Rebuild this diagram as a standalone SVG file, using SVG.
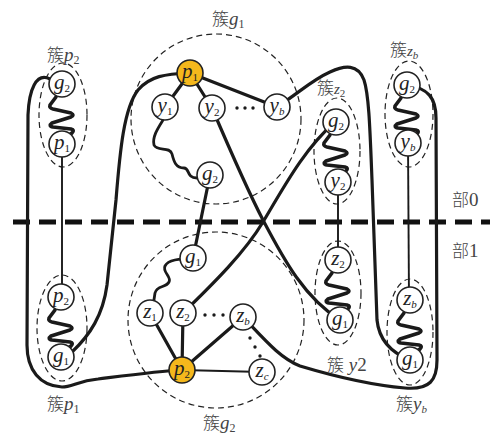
<svg xmlns="http://www.w3.org/2000/svg" xmlns:xlink="http://www.w3.org/1999/xlink" width="501" height="437" viewBox="0 0 501 437">
  <style>
    .node { fill: #ffffff; stroke: #222; stroke-width: 1.6; }
    .root { fill: #F5B81C; stroke: #222; stroke-width: 1.6; }
    .thick { fill: none; stroke: #1a1a1a; stroke-width: 3.2; stroke-linecap: round; stroke-linejoin: round; }
    .thin { fill: none; stroke: #1a1a1a; stroke-width: 1.9; }
    .wave { fill: none; stroke: #1a1a1a; stroke-width: 3.6; stroke-linejoin: round; stroke-linecap: round; }
    .squig { fill: none; stroke: #1a1a1a; stroke-width: 2.8; stroke-linejoin: round; stroke-linecap: round; }
    .cluster { fill: none; stroke: #222; stroke-width: 1.2; stroke-dasharray: 6 4; }
    .divider { fill: none; stroke: #111; stroke-width: 5; stroke-dasharray: 17 9; }
    .dot { fill: #1a1a1a; }
  </style>
  <defs>
    <!-- zig-zag spring between the two members of a pair cluster, top node at origin -->
    <path id="zz" class="wave" d="M-6,13 L-12,21 Q-13,24 -9,25 L9,29 Q13,31 9,33 L-10,39 Q-14,42 -9,43 L9,45 Q13,46 10,49 L6,52"/>
  </defs>

  <!-- part divider -->
  <line class="divider" x1="13" y1="222" x2="490" y2="222"/>

  <!-- cluster outlines -->
  <g id="outlines">
    <circle class="cluster" cx="216" cy="119" r="85"/>
    <circle class="cluster" cx="216" cy="320" r="88"/>
    <ellipse class="cluster" cx="63" cy="115" rx="24" ry="52"/>
    <ellipse class="cluster" cx="62" cy="328" rx="25" ry="53"/>
    <ellipse class="cluster" cx="337" cy="151" rx="23" ry="53"/>
    <ellipse class="cluster" cx="409" cy="114" rx="24" ry="53"/>
    <ellipse class="cluster" cx="338" cy="293" rx="23" ry="52"/>
    <ellipse class="cluster" cx="410" cy="332" rx="23" ry="53"/>
  </g>

  <!-- connectors -->
  <g id="connectors">
    <!-- long outer curves -->
    <path class="thick" d="M50,79 C36,72 29,90 28,115 L27,345 C27,370 40,386 62,387 C72,387 78,381 98,379 C130,375 160,371 182,370"/>
    <path class="thick" d="M72,352 C90,335 103,315 107,285 L116,200 C120,150 124,108 138,90 C150,76 165,74 190,73"/>
    <path class="thick" d="M277,107 C300,92 312,80 330,72 C345,65 358,64 364,80 C369,95 370,130 372,180 L377,320 C379,340 392,353 410,360"/>
    <path class="thick" d="M243,317 C265,340 280,358 300,366 C330,375 370,385 405,388 C430,390 437,380 437,360 L436,118 C436,98 428,88 407,85"/>
    <!-- crossing edges -->
    <path class="thick" d="M212,108 C230,150 250,195 263,220 C285,262 305,298 340,320"/>
    <path class="thick" d="M183,313 C215,282 245,252 263,222 C285,185 305,148 335,122"/>
    <!-- edges inside cluster g1 -->
    <line class="thick" x1="190" y1="73" x2="165" y2="107"/>
    <line class="thick" x1="190" y1="73" x2="212" y2="108"/>
    <line class="thick" x1="190" y1="73" x2="277" y2="107"/>
    <path class="squig" d="M163,120 C158,128 152,137 154,145 C157,152 170,146 172,154 C174,162 176,168 184,168 C190,168 186,178 197,178 L205,176"/>
    <!-- link g1 cluster to g2 cluster -->
    <line class="thick" x1="210" y1="175" x2="193" y2="258"/>
    <!-- edges inside cluster g2 -->
    <path class="squig" d="M190,260 C180,258 168,260 165,266 C162,272 172,277 169,282 C166,288 157,285 155,293 L152,313"/>
    <line class="thick" x1="182" y1="370" x2="150" y2="313"/>
    <line class="thick" x1="182" y1="370" x2="183" y2="313"/>
    <line class="thick" x1="182" y1="370" x2="243" y2="317"/>
    <line class="thin" x1="182" y1="370" x2="262" y2="372"/>
    <!-- vertical links between parts -->
    <line class="thin" x1="62" y1="143" x2="62" y2="297"/>
    <line class="thin" x1="338" y1="182" x2="338" y2="260"/>
    <line class="thin" x1="408" y1="143" x2="409" y2="300"/>
    <!-- springs inside pair clusters -->
    <use href="#zz" x="62" y="84"/>
    <use href="#zz" x="61" y="297"/>
    <use href="#zz" x="336" y="122"/>
    <use href="#zz" x="407" y="85"/>
    <use href="#zz" x="338" y="260"/>
    <use href="#zz" x="410" y="300"/>
    <!-- ellipsis dots -->
    <circle class="dot" cx="237" cy="108" r="1.7"/>
    <circle class="dot" cx="245" cy="108" r="1.7"/>
    <circle class="dot" cx="253" cy="108" r="1.7"/>
    <circle class="dot" cx="205" cy="315" r="1.7"/>
    <circle class="dot" cx="214" cy="315" r="1.7"/>
    <circle class="dot" cx="223" cy="315" r="1.7"/>
    <circle class="dot" cx="250" cy="338" r="1.7"/>
    <circle class="dot" cx="255" cy="347" r="1.7"/>
    <circle class="dot" cx="260" cy="356" r="1.7"/>
  </g>

  <!-- cluster captions -->
  <g id="captions" font-family="Liberation Serif, DejaVu Serif, serif" font-size="19" fill="#444">
    <text x="452" y="206"><tspan font-family="Noto Sans CJK SC, sans-serif" font-size="17" font-weight="300">部</tspan>0</text>
    <text x="452" y="257"><tspan font-family="Noto Sans CJK SC, sans-serif" font-size="17" font-weight="300">部</tspan>1</text>
    <text id="cap-p2" x="47" y="61"><tspan font-family="Noto Sans CJK SC, sans-serif" font-size="17" font-weight="300">簇</tspan><tspan font-style="italic">p</tspan><tspan font-size="12" dy="3">2</tspan></text>
    <text id="cap-p1" x="47" y="410"><tspan font-family="Noto Sans CJK SC, sans-serif" font-size="17" font-weight="300">簇</tspan><tspan font-style="italic">p</tspan><tspan font-size="12" dy="3">1</tspan></text>
    <text id="cap-g1" x="212" y="25"><tspan font-family="Noto Sans CJK SC, sans-serif" font-size="17" font-weight="300">簇</tspan><tspan font-style="italic">g</tspan><tspan font-size="12" dy="3">1</tspan></text>
    <text id="cap-g2" x="203" y="429"><tspan font-family="Noto Sans CJK SC, sans-serif" font-size="17" font-weight="300">簇</tspan><tspan font-style="italic">g</tspan><tspan font-size="12" dy="3">2</tspan></text>
    <text id="cap-z2" x="317" y="94"><tspan font-family="Noto Sans CJK SC, sans-serif" font-size="17" font-weight="300">簇</tspan><tspan font-style="italic" font-size="15">z</tspan><tspan font-size="11" dy="3">2</tspan></text>
    <text id="cap-zb" x="390" y="56"><tspan font-family="Noto Sans CJK SC, sans-serif" font-size="17" font-weight="300">簇</tspan><tspan font-style="italic" font-size="15">z</tspan><tspan font-size="11" dy="3" font-style="italic">b</tspan></text>
    <text id="cap-y2" x="327" y="371"><tspan font-family="Noto Sans CJK SC, sans-serif" font-size="17" font-weight="300">簇</tspan> <tspan font-style="italic">y</tspan>2</text>
    <text id="cap-yb" x="396" y="410"><tspan font-family="Noto Sans CJK SC, sans-serif" font-size="17" font-weight="300">簇</tspan><tspan font-style="italic">y</tspan><tspan font-size="11" dy="3" font-style="italic">b</tspan></text>
  </g>

  <!-- vertices -->
  <g id="nodes" font-family="Liberation Serif, DejaVu Serif, serif" font-style="italic" font-size="21" fill="#222" text-anchor="middle">
    <!-- cluster p2 -->
    <g id="p2c-g2"><circle class="node" cx="62" cy="84" r="13"/><text x="62" y="89">g<tspan font-size="11" font-style="normal" dy="3">2</tspan></text></g>
    <g id="p2c-p1"><circle class="node" cx="62" cy="144" r="13"/><text x="62" y="149">p<tspan font-size="11" font-style="normal" dy="3">1</tspan></text></g>
    <!-- cluster p1 -->
    <g id="p1c-p2"><circle class="node" cx="61" cy="297" r="13"/><text x="61" y="302">p<tspan font-size="11" font-style="normal" dy="3">2</tspan></text></g>
    <g id="p1c-g1"><circle class="node" cx="61" cy="357" r="13"/><text x="61" y="362">g<tspan font-size="11" font-style="normal" dy="3">1</tspan></text></g>
    <!-- cluster g1 -->
    <g id="g1c-p1"><circle class="root" cx="190" cy="73" r="13"/><text x="190" y="78">p<tspan font-size="11" font-style="normal" dy="3">1</tspan></text></g>
    <g id="g1c-y1"><circle class="node" cx="165" cy="107" r="13"/><text x="165" y="112">y<tspan font-size="11" font-style="normal" dy="3">1</tspan></text></g>
    <g id="g1c-y2"><circle class="node" cx="212" cy="108" r="13"/><text x="212" y="113">y<tspan font-size="11" font-style="normal" dy="3">2</tspan></text></g>
    <g id="g1c-yb"><circle class="node" cx="277" cy="107" r="13"/><text x="277" y="112">y<tspan font-size="11" dy="3">b</tspan></text></g>
    <g id="g1c-g2"><circle class="node" cx="210" cy="175" r="13"/><text x="210" y="180">g<tspan font-size="11" font-style="normal" dy="3">2</tspan></text></g>
    <!-- cluster g2 -->
    <g id="g2c-g1"><circle class="node" cx="193" cy="258" r="13"/><text x="193" y="263">g<tspan font-size="11" font-style="normal" dy="3">1</tspan></text></g>
    <g id="g2c-z1"><circle class="node" cx="150" cy="313" r="13"/><text x="150" y="318">z<tspan font-size="11" font-style="normal" dy="3">1</tspan></text></g>
    <g id="g2c-z2"><circle class="node" cx="183" cy="313" r="13"/><text x="183" y="318">z<tspan font-size="11" font-style="normal" dy="3">2</tspan></text></g>
    <g id="g2c-zb"><circle class="node" cx="243" cy="317" r="13"/><text x="243" y="322">z<tspan font-size="11" dy="3">b</tspan></text></g>
    <g id="g2c-zc"><circle class="node" cx="262" cy="372" r="13"/><text x="262" y="377">z<tspan font-size="11" dy="3">c</tspan></text></g>
    <g id="g2c-p2"><circle class="root" cx="182" cy="370" r="13"/><text x="182" y="375">p<tspan font-size="11" font-style="normal" dy="3">2</tspan></text></g>
    <!-- cluster z2 -->
    <g id="z2c-g2"><circle class="node" cx="336" cy="122" r="13"/><text x="336" y="127">g<tspan font-size="11" font-style="normal" dy="3">2</tspan></text></g>
    <g id="z2c-y2"><circle class="node" cx="338" cy="182" r="13"/><text x="338" y="187">y<tspan font-size="11" font-style="normal" dy="3">2</tspan></text></g>
    <!-- cluster zb -->
    <g id="zbc-g2"><circle class="node" cx="407" cy="85" r="13"/><text x="407" y="90">g<tspan font-size="11" font-style="normal" dy="3">2</tspan></text></g>
    <g id="zbc-yb"><circle class="node" cx="408" cy="143" r="13"/><text x="408" y="148">y<tspan font-size="11" dy="3">b</tspan></text></g>
    <!-- cluster y2 -->
    <g id="y2c-z2"><circle class="node" cx="338" cy="260" r="13"/><text x="338" y="265">z<tspan font-size="11" font-style="normal" dy="3">2</tspan></text></g>
    <g id="y2c-g1"><circle class="node" cx="340" cy="320" r="13"/><text x="340" y="325">g<tspan font-size="11" font-style="normal" dy="3">1</tspan></text></g>
    <!-- cluster yb -->
    <g id="ybc-zb"><circle class="node" cx="410" cy="300" r="13"/><text x="410" y="305">z<tspan font-size="11" dy="3">b</tspan></text></g>
    <g id="ybc-g1"><circle class="node" cx="410" cy="360" r="13"/><text x="410" y="365">g<tspan font-size="11" font-style="normal" dy="3">1</tspan></text></g>
  </g>
</svg>
